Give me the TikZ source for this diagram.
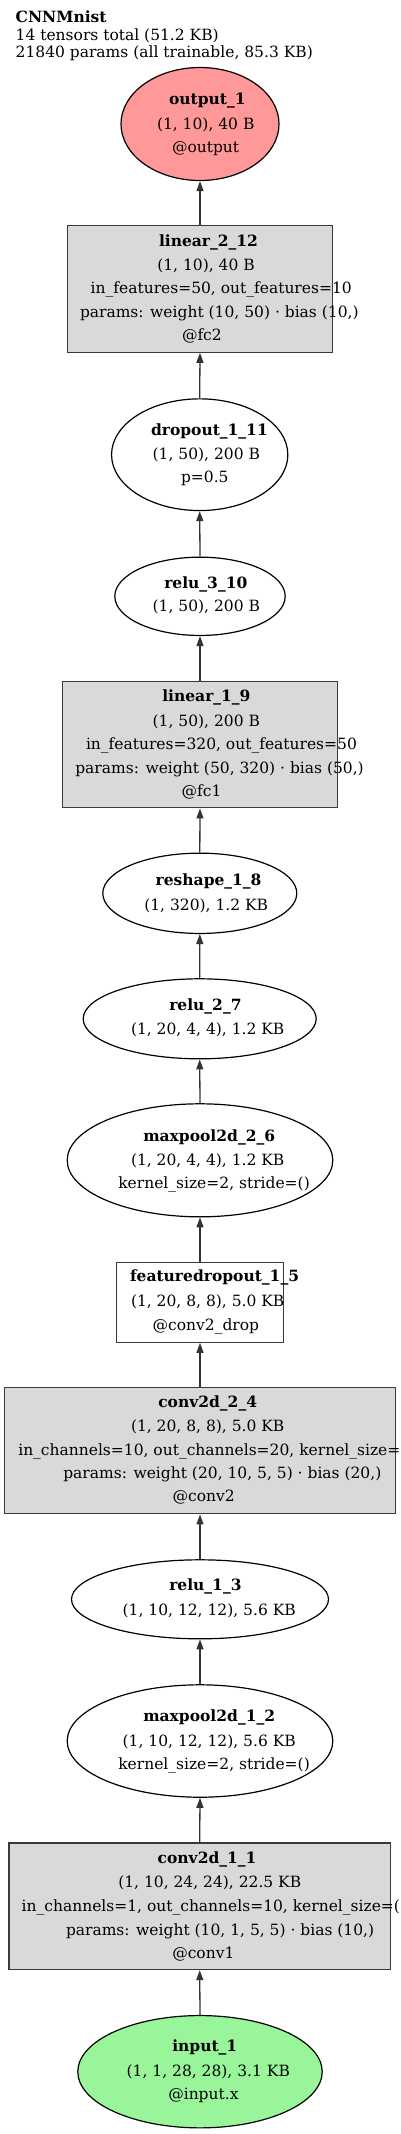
\documentclass[tikz,border=0pt]{standalone}
\usepackage{fontspec}
\setmainfont{DejaVu Serif}
\usetikzlibrary{shapes.geometric,arrows.meta}
\definecolor{outfill}{HTML}{FF9999}
\definecolor{infill}{HTML}{99F599}
\definecolor{boxfill}{HTML}{D9D9D9}
\definecolor{edgec}{HTML}{333333}
\definecolor{boxline}{HTML}{3A3A3A}
\tikzset{
 ell/.style={ellipse, draw=black, line width=1.2pt, inner sep=0pt, fill=white},
 rbox/.style={rectangle, draw=boxline, line width=1.3pt, inner sep=0pt},
 txt/.style={anchor=base west, inner sep=0pt, outer sep=0pt, font=\fontsize{15.5}{18}\selectfont},
 btxt/.style={txt, font=\fontsize{15.5}{18}\selectfont\bfseries},
 edge/.style={draw=edgec, line width=1.3pt, -{Triangle[length=10pt,width=7pt]}},
}
\begin{document}
\begin{tikzpicture}[x=1pt,y=-1pt]
\useasboundingbox[fill=white] (0,0) rectangle (400,2134);
% title
\node[btxt] (title) at (15.7,22) {CNNMnist};
\node[txt] (sub1) at (15.7,40) {14 tensors total (51.2 KB)};
\node[txt] (sub2) at (15.7,57.5) {21840 params (all trainable, 85.3 KB)};
% shapes
\node[ell, fill=outfill, minimum width=158pt, minimum height=113pt] (out) at (200,124) {};
\node[rbox, fill=boxfill, minimum width=265.6pt, minimum height=126.7pt] (lin2) at (200,288.8) {};
\node[ell, minimum width=176.3pt, minimum height=111.7pt] (drop) at (199.7,454.7) {};
\node[ell, minimum width=170.4pt, minimum height=78.3pt] (relu3) at (200,596.3) {};
\node[rbox, fill=boxfill, minimum width=274.4pt, minimum height=126.6pt] (lin1) at (200,744.5) {};
\node[ell, minimum width=194pt, minimum height=80.3pt] (resh) at (199.8,893.3) {};
\node[ell, minimum width=233pt, minimum height=80pt] (relu2) at (199.7,1018.8) {};
\node[ell, minimum width=265.6pt, minimum height=113pt] (mp2) at (200,1160.3) {};
\node[rbox, fill=white, minimum width=167pt, minimum height=80pt] (fd) at (200,1302.2) {};
\node[rbox, fill=boxfill, minimum width=390.4pt, minimum height=126.6pt] (conv2) at (200,1450.5) {};
\node[ell, minimum width=257pt, minimum height=79pt] (relu1) at (200,1599.3) {};
\node[ell, minimum width=265.6pt, minimum height=112.4pt] (mp1) at (200,1741) {};
\node[rbox, fill=boxfill, minimum width=381.7pt, minimum height=126.7pt] (conv1) at (199.7,1906.2) {};
\node[ell, fill=infill, minimum width=244.4pt, minimum height=112.3pt] (in) at (200,2071.7) {};
% edges
\draw[edge] (lin2.north) -- (out.south);
\draw[edge] (drop.north) -- (lin2.south);
\draw[edge] (relu3.north) -- (drop.south);
\draw[edge] (lin1.north) -- (relu3.south);
\draw[edge] (resh.north) -- (lin1.south);
\draw[edge] (relu2.north) -- (resh.south);
\draw[edge] (mp2.north) -- (relu2.south);
\draw[edge] (fd.north) -- (mp2.south);
\draw[edge] (conv2.north) -- (fd.south);
\draw[edge] (relu1.north) -- (conv2.south);
\draw[edge] (mp1.north) -- (relu1.south);
\draw[edge] (conv1.north) -- (mp1.south);
\draw[edge] (in.north) -- (conv1.south);
% texts: output_1
\node[btxt] (outa) at (169,104) {output\_1};
\node[txt] (outb) at (157,129) {(1, 10), 40 B};
\node[txt] (outc) at (172,152) {@output};
% linear_2_12
\node[btxt] (lin2a) at (159,246) {linear\_2\_12};
\node[txt] (lin2b) at (157.3,270) {(1, 10), 40 B};
\node[txt] (lin2c) at (90.7,293) {in\_features=50, out\_features=10};
\node[txt] (lin2d) at (80,317) {params: weight (10, 50) · bias (10,)};
\node[txt] (lin2e) at (182,340) {@fc2};
% dropout_1_11
\node[btxt] (dropa) at (151,435) {dropout\_1\_11};
\node[txt] (dropb) at (152.7,459.3) {(1, 50), 200 B};
\node[txt] (dropc) at (181,482.7) {p=0.5};
% relu_3_10
\node[btxt] (relu3a) at (164.3,588.3) {relu\_3\_10};
\node[txt] (relu3b) at (152.7,611.7) {(1, 50), 200 B};
% linear_1_9
\node[btxt] (lin1a) at (162.3,701.7) {linear\_1\_9};
\node[txt] (lin1b) at (152.7,726) {(1, 50), 200 B};
\node[txt] (lin1c) at (86,749.3) {in\_features=320, out\_features=50};
\node[txt] (lin1d) at (75.3,773.3) {params: weight (50, 320) · bias (50,)};
\node[txt] (lin1e) at (181.7,796.7) {@fc1};
% reshape_1_8
\node[btxt] (resha) at (155.7,885) {reshape\_1\_8};
\node[txt] (reshb) at (144.3,910) {(1, 320), 1.2 KB};
% relu_2_7
\node[btxt] (relu2a) at (169.3,1010) {relu\_2\_7};
\node[txt] (relu2b) at (131,1034.3) {(1, 20, 4, 4), 1.2 KB};
% maxpool2d_2_6
\node[btxt] (mp2a) at (143.3,1141) {maxpool2d\_2\_6};
\node[txt] (mp2b) at (131,1165) {(1, 20, 4, 4), 1.2 KB};
\node[txt] (mp2c) at (118.3,1188.3) {kernel\_size=2, stride=()};
% featuredropout_1_5
\node[btxt] (fda) at (130,1281.7) {featuredropout\_1\_5};
\node[txt] (fdb) at (131,1306.7) {(1, 20, 8, 8), 5.0 KB};
\node[txt] (fdc) at (152.7,1330) {@conv2\_drop};
% conv2d_2_4
\node[btxt] (conv2a) at (158.3,1407.3) {conv2d\_2\_4};
\node[txt] (conv2b) at (131,1431.7) {(1, 20, 8, 8), 5.0 KB};
\node[txt] (conv2c) at (18.3,1455) {in\_channels=10, out\_channels=20, kernel\_size=(5, 5)};
\node[txt] (conv2d) at (63.3,1478.3) {params: weight (20, 10, 5, 5) · bias (20,)};
\node[txt] (conv2e) at (172.7,1501.7) {@conv2};
% relu_1_3
\node[btxt] (relu1a) at (169.3,1590.7) {relu\_1\_3};
\node[txt] (relu1b) at (122.7,1615) {(1, 10, 12, 12), 5.6 KB};
% maxpool2d_1_2
\node[btxt] (mp1a) at (143.3,1721.7) {maxpool2d\_1\_2};
\node[txt] (mp1b) at (122.7,1746) {(1, 10, 12, 12), 5.6 KB};
\node[txt] (mp1c) at (118.3,1769.3) {kernel\_size=2, stride=()};
% conv2d_1_1
\node[btxt] (conv1a) at (157.7,1863.3) {conv2d\_1\_1};
\node[txt] (conv1b) at (118.3,1887.7) {(1, 10, 24, 24), 22.5 KB};
\node[txt] (conv1c) at (21.7,1911.7) {in\_channels=1, out\_channels=10, kernel\_size=(5, 5)};
\node[txt] (conv1d) at (66,1935) {params: weight (10, 1, 5, 5) · bias (10,)};
\node[txt] (conv1e) at (172.3,1958.3) {@conv1};
% input_1
\node[btxt] (ina) at (172.3,2051.7) {input\_1};
\node[txt] (inb) at (126.7,2076) {(1, 1, 28, 28), 3.1 KB};
\node[txt] (inc) at (168.3,2099.3) {@input.x};
\end{tikzpicture}
\end{document}
